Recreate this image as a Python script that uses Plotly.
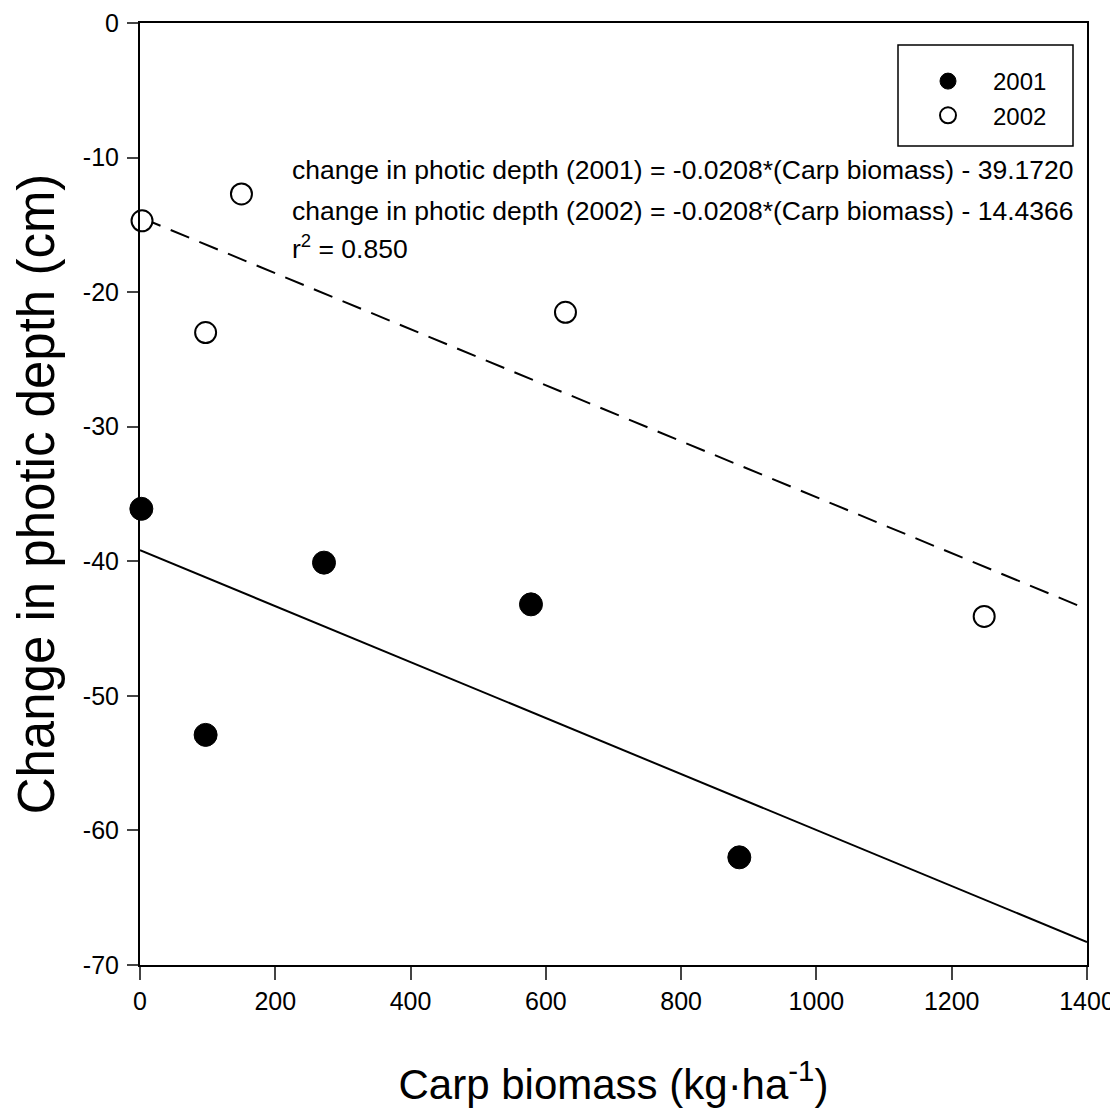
import plotly.graph_objects as go

# Data
biomass_2001 = [2, 97, 272, 578, 886]
depth_2001 = [-36.1, -52.9, -40.1, -43.2, -62.0]
biomass_2002 = [3, 97, 150, 629, 1248]
depth_2002 = [-14.7, -23.0, -12.7, -21.5, -44.1]

slope = -0.0208
intercept_2001 = -39.1720
intercept_2002 = -14.4366
r2 = 0.850
x_max = 1400

x_ticks = [0, 200, 400, 600, 800, 1000, 1200, 1400]
y_ticks = [0, -10, -20, -30, -40, -50, -60, -70]

FONT = "Liberation Sans, Arial, sans-serif"

fig = go.Figure()

# regression lines
x1 = [0, x_max]
fig.add_trace(go.Scatter(x=x1, y=[intercept_2001 + slope * v for v in x1], mode="lines",
                         line=dict(color="black", width=2), showlegend=False, hoverinfo="skip"))
x2 = [min(biomass_2002), x_max]
fig.add_trace(go.Scatter(x=x2, y=[intercept_2002 + slope * v for v in x2], mode="lines",
                         line=dict(color="black", width=2, dash="20px,11px"), showlegend=False, hoverinfo="skip"))

fig.add_trace(go.Scatter(x=biomass_2001, y=depth_2001, mode="markers", name="2001", cliponaxis=False,
                         marker=dict(symbol="circle", size=23, color="black", line=dict(color="black", width=1))))
fig.add_trace(go.Scatter(x=biomass_2002, y=depth_2002, mode="markers", name="2002", cliponaxis=False,
                         marker=dict(symbol="circle", size=21, color="white", line=dict(color="black", width=2))))

ann_lines = [
    f"change in photic depth (2001) = {slope:.4f}*(Carp biomass) - {abs(intercept_2001):.4f}",
    f"change in photic depth (2002) = {slope:.4f}*(Carp biomass) - {abs(intercept_2002):.4f}",
    f"r<sup>2</sup> = {r2:.3f}",
]
ann_y = [-10.95, -13.95, -16.65]
for t, yy in zip(ann_lines, ann_y):
    fig.add_annotation(x=222, y=yy, text=t, showarrow=False, xanchor="left", yanchor="middle",
                       font=dict(family=FONT, size=26.5, color="black"))

# page pixel -> paper coordinate helpers (plot area spans page x 140..1087, y 23..965)
def px(v):
    return (v - 140) / 947

def py(v):
    return (965 - v) / 942

# legend frame
fig.add_shape(type="rect", xref="paper", yref="paper",
              x0=px(898), x1=px(1073), y0=py(146), y1=py(45),
              line=dict(color="black", width=1.5), fillcolor="white", layer="below")

fig.update_layout(
    width=1110, height=1100,
    margin=dict(l=132, r=31, t=15, b=143),
    paper_bgcolor="white", plot_bgcolor="rgba(0,0,0,0)",
    font=dict(family=FONT, color="black"),
    showlegend=True,
    legend=dict(x=px(903), y=py(59), xanchor="left", yanchor="top",
                borderwidth=0, bgcolor="rgba(0,0,0,0)",
                font=dict(family=FONT, size=24), itemwidth=80, tracegroupgap=0),
)
fig.update_xaxes(range=[0, 1400], tickvals=x_ticks, ticktext=[str(v) for v in x_ticks],
                 ticks="outside", ticklen=13, tickwidth=2, ticklabelstandoff=0,
                 showline=True, linecolor="black", linewidth=2, mirror=True, showgrid=False, zeroline=False,
                 automargin=False, tickfont=dict(family=FONT, size=25),
                 title=dict(text="Carp biomass (kg·ha<sup>-1</sup>)", font=dict(family=FONT, size=42), standoff=62))
fig.update_yaxes(range=[-70, 0], tickvals=y_ticks, ticktext=[str(v) for v in y_ticks],
                 ticks="outside", ticklen=11, tickwidth=2, ticklabelstandoff=3,
                 showline=True, linecolor="black", linewidth=2, mirror=True, showgrid=False, zeroline=False,
                 automargin=False, tickfont=dict(family=FONT, size=25),
                 title=dict(text="Change in photic depth (cm)", font=dict(family=FONT, size=51), standoff=14))

fig.write_html("out.html")
